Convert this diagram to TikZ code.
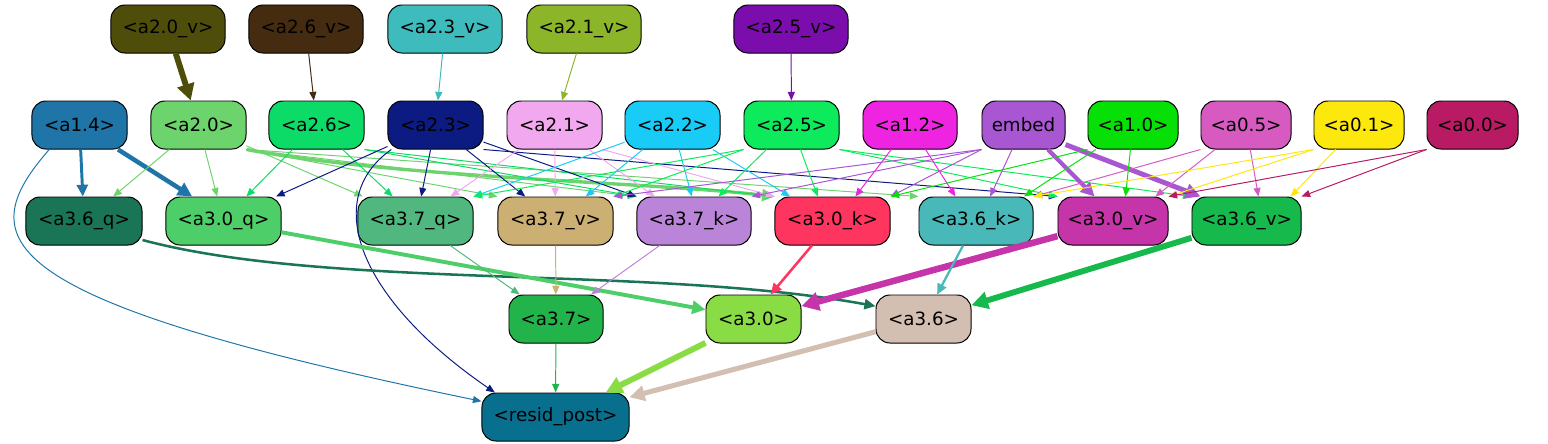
\documentclass[tikz,border=0pt]{standalone}
\usepackage{fontspec}
\setmainfont{DejaVu Sans}
\usetikzlibrary{arrows.meta}
\definecolor{c20v}{HTML}{4E4D0A}
\definecolor{c26v}{HTML}{452B10}
\definecolor{c23v}{HTML}{3DBBBD}
\definecolor{c21v}{HTML}{8DB52A}
\definecolor{c25v}{HTML}{7B0DAC}
\definecolor{c14}{HTML}{1F75A8}
\definecolor{c20}{HTML}{6DD46D}
\definecolor{c26}{HTML}{0DDB67}
\definecolor{c23}{HTML}{0C1B82}
\definecolor{c21}{HTML}{F2A8EE}
\definecolor{c22}{HTML}{19CCF8}
\definecolor{c25}{HTML}{0DEA5C}
\definecolor{c12}{HTML}{EE24E0}
\definecolor{cemb}{HTML}{A956D3}
\definecolor{c10}{HTML}{07E007}
\definecolor{c05}{HTML}{D75AC0}
\definecolor{c01}{HTML}{FDE80D}
\definecolor{c00}{HTML}{B81A64}
\definecolor{c36q}{HTML}{1A7556}
\definecolor{c30q}{HTML}{4ECE68}
\definecolor{c37q}{HTML}{50B87F}
\definecolor{c37v}{HTML}{CCAF73}
\definecolor{c37k}{HTML}{BA85D8}
\definecolor{c30k}{HTML}{FE355E}
\definecolor{c36k}{HTML}{49B8B8}
\definecolor{c30v}{HTML}{C534A8}
\definecolor{c36v}{HTML}{16B94C}
\definecolor{c37}{HTML}{22B44A}
\definecolor{c30}{HTML}{8ADC45}
\definecolor{c36}{HTML}{D3BEB2}
\definecolor{cres}{HTML}{08708E}
\begin{document}
\begin{tikzpicture}[x=0.025cm,y=-0.025cm,
  box/.style={draw=black,line width=0.7pt,rounded corners=10pt,minimum height=1.2cm,inner sep=0pt,font=\fontsize{13}{15}\selectfont},
  ed/.style={line width=0.7pt,-{Triangle[length=5pt 1.6,width=3.6pt 2]}}]
\useasboundingbox (0,0) rectangle (1548,443);
\node[box,fill=c20v,minimum width=2.85cm] (a20v) at (168,29) {<a2.0\_v>};
\node[box,fill=c26v,minimum width=2.85cm] (a26v) at (306,29) {<a2.6\_v>};
\node[box,fill=c23v,minimum width=2.85cm] (a23v) at (445,29) {<a2.3\_v>};
\node[box,fill=c21v,minimum width=2.85cm] (a21v) at (584,29) {<a2.1\_v>};
\node[box,fill=c25v,minimum width=2.85cm] (a25v) at (791,29) {<a2.5\_v>};
\node[box,fill=c14,minimum width=2.375cm] (a14) at (79.5,125) {<a1.4>};
\node[box,fill=c20,minimum width=2.375cm] (a20) at (198.5,125) {<a2.0>};
\node[box,fill=c26,minimum width=2.375cm] (a26) at (316.5,125) {<a2.6>};
\node[box,fill=c23,minimum width=2.375cm] (a23) at (435.5,125) {<a2.3>};
\node[box,fill=c21,minimum width=2.375cm] (a21) at (554.5,125) {<a2.1>};
\node[box,fill=c22,minimum width=2.375cm] (a22) at (672.5,125) {<a2.2>};
\node[box,fill=c25,minimum width=2.375cm] (a25) at (791.5,125) {<a2.5>};
\node[box,fill=c12,minimum width=2.35cm] (a12) at (910,125) {<a1.2>};
\node[box,fill=cemb,minimum width=2.075cm] (embed) at (1023.5,125) {embed};
\node[box,fill=c10,minimum width=2.25cm] (a10) at (1133,125) {<a1.0>};
\node[box,fill=c05,minimum width=2.25cm] (a05) at (1246,125) {<a0.5>};
\node[box,fill=c01,minimum width=2.25cm] (a01) at (1359,125) {<a0.1>};
\node[box,fill=c00,minimum width=2.275cm] (a00) at (1472.5,125) {<a0.0>};
\node[box,fill=c36q,minimum width=2.9cm] (a36q) at (84,221) {<a3.6\_q>};
\node[box,fill=c30q,minimum width=2.875cm] (a30q) at (223.5,221) {<a3.0\_q>};
\node[box,fill=c37q,minimum width=2.875cm] (a37q) at (415.5,221) {<a3.7\_q>};
\node[box,fill=c37v,minimum width=2.875cm] (a37v) at (555.5,221) {<a3.7\_v>};
\node[box,fill=c37k,minimum width=2.85cm] (a37k) at (694,221) {<a3.7\_k>};
\node[box,fill=c30k,minimum width=2.875cm] (a30k) at (832.5,221) {<a3.0\_k>};
\node[box,fill=c36k,minimum width=2.85cm] (a36k) at (976,221) {<a3.6\_k>};
\node[box,fill=c30v,minimum width=2.75cm] (a30v) at (1113,221) {<a3.0\_v>};
\node[box,fill=c36v,minimum width=2.725cm] (a36v) at (1246.5,221) {<a3.6\_v>};
\node[box,fill=c37,minimum width=2.35cm] (a37) at (556,319) {<a3.7>};
\node[box,fill=c30,minimum width=2.375cm] (a30) at (753.5,319) {<a3.0>};
\node[box,fill=c36,minimum width=2.375cm] (a36) at (923.5,319) {<a3.6>};
\node[box,fill=cres,minimum width=3.675cm] (resid) at (555.5,417) {<resid\_post>};
\draw[ed,c20v,line width=4.2pt] (a20v) -- (a20);
\draw[ed,c26v] (a26v) -- (a26);
\draw[ed,c23v] (a23v) -- (a23);
\draw[ed,c21v] (a21v) -- (a21);
\draw[ed,c25v] (a25v) -- (a25);
\draw[ed,c14,line width=2.1pt] (a14) -- (a36q);
\draw[ed,c14,line width=3.2pt] (a14) -- (a30q.142);
\draw[ed,c14] (a14.219) .. controls (-30,240) and (-10,300) .. (resid.168);
\draw[ed,c20] (a20) -- (a36q.40);
\draw[ed,c20] (a20) -- (a30q);
\draw[ed,c20] (a20) -- (a37q.155);
\draw[ed,c20] (a20.south east) -- (a37v.north west);
\draw[ed,c20] (a20.south east) -- (a37k.north west);
\draw[ed,c20,line width=2.4pt] (a20.south east) .. controls (400,178) and (650,182) .. (a30k.north west);
\draw[ed,c20] (a20.south east) -- (a36k.north west);
\draw[ed,c26] (a26) -- (a30q.47);
\draw[ed,c26] (a26) -- (a37q.133);
\draw[ed,c26] (a26.south east) -- (a37k.north west);
\draw[ed,c26] (a26.south east) -- (a30k.north west);
\draw[ed,c23] (a23) -- (a30q.25);
\draw[ed,c23] (a23) -- (a37q.77);
\draw[ed,c23] (a23) -- (a37v.141);
\draw[ed,c23] (a23) -- (a37k.north west);
\draw[ed,c23] (a23.south east) -- (a30v.north west);
\draw[ed,c23] (a23.209) .. controls (320,200) and (360,300) .. (resid.158);
\draw[ed,c21] (a21) -- (a37q.35);
\draw[ed,c21] (a21) -- (a37v);
\draw[ed,c21] (a21) -- (a37k.148);
\draw[ed,c21] (a21.south east) -- (a30k.north west);
\draw[ed,c22] (a22) -- (a37q.north east);
\draw[ed,c22] (a22) -- (a37v.39);
\draw[ed,c22] (a22) -- (a37k.95);
\draw[ed,c22] (a22) -- (a30k.150);
\draw[ed,c25] (a25.south west) -- (a37q.north east);
\draw[ed,c25] (a25.south west) -- (a37v.north east);
\draw[ed,c25] (a25) -- (a37k.45);
\draw[ed,c25] (a25) -- (a30k.121);
\draw[ed,c25] (a25.south east) -- (a30v.north west);
\draw[ed,c25] (a25.south east) -- (a36v.north west);
\draw[ed,c12] (a12) -- (a30k.47);
\draw[ed,c12] (a12) -- (a36k.130);
\draw[ed,cemb] (embed.south west) -- (a37v.north east);
\draw[ed,cemb] (embed.south west) -- (a37k.north east);
\draw[ed,cemb] (embed.south west) -- (a30k.north east);
\draw[ed,cemb] (embed) -- (a36k.60);
\draw[ed,cemb,line width=3pt] (embed) -- (a30v.127);
\draw[ed,cemb,line width=3.5pt] (embed.-25) -- (a36v.152);
\draw[ed,c10] (a10.south west) -- (a30k.north east);
\draw[ed,c10] (a10) -- (a36k.27);
\draw[ed,c10] (a10) -- (a30v.63);
\draw[ed,c05] (a05.south west) -- (a36k.north east);
\draw[ed,c05] (a05) -- (a30v.30);
\draw[ed,c05] (a05) -- (a36v.64);
\draw[ed,c01] (a01.south west) -- (a36k.north east);
\draw[ed,c01] (a01.south west) -- (a30v.north east);
\draw[ed,c01] (a01) -- (a36v.29);
\draw[ed,c00] (a00.south west) -- (a30v.north east);
\draw[ed,c00] (a00.south west) -- (a36v.north east);
\draw[ed,c36q,line width=1.8pt] (a36q.-18) .. controls (330,290) and (650,265) .. (a36.165);
\draw[ed,c30q,line width=2.8pt] (a30q.-11) -- (a30.169);
\draw[ed,c37q] (a37q) -- (a37.146);
\draw[ed,c37v] (a37v) -- (a37);
\draw[ed,c37k] (a37k) -- (a37.35);
\draw[ed,c30k,line width=1.8pt] (a30k) -- (a30.55);
\draw[ed,c30v,line width=4.6pt] (a30v) -- (a30.15);
\draw[ed,c36k,line width=1.6pt] (a36k) -- (a36.61);
\draw[ed,c36v,line width=4.2pt] (a36v) -- (a36.16);
\draw[ed,c37] (a37) -- (resid);
\draw[ed,c30,line width=4.2pt] (a30) -- (resid.26);
\draw[ed,c36,line width=3.6pt] (a36) -- (resid.15);
\end{tikzpicture}
\end{document}
